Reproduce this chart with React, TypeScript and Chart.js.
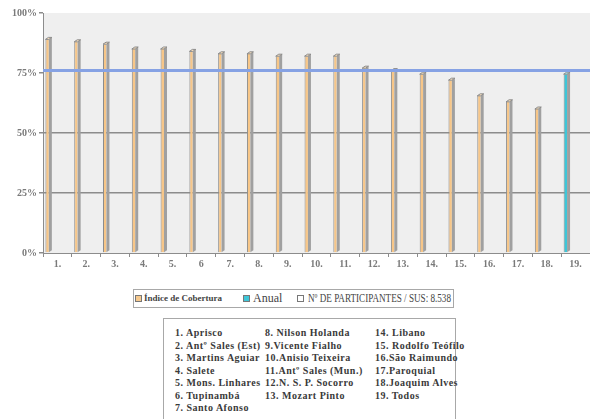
import React, { useEffect, useRef } from "react";
import { Chart, registerables } from "chart.js";

Chart.register(...registerables);

// Coverage per unit (1–18), the overall figure for unit 19, and the annual target line
const categories = ["1.", "2.", "3.", "4.", "5.", "6", "7.", "8.", "9.", "10.", "11.", "12.", "13.", "14.", "15.", "16.", "17.", "18.", "19."];
const coverage = [89, 88, 87, 85, 85, 84, 83, 83, 82, 82, 82, 77, 76, 74.5, 72, 65.5, 63, 60, null];
const annual = [null, null, null, null, null, null, null, null, null, null, null, null, null, null, null, null, null, null, 74.5];
const participants = categories.map(() => null);
const targetLine = [76, 76];
const yTicks = [0, 25, 50, 75, 100];

const legendItems = [
  { label: "Índice de Cobertura", color: "#f6c98e", small: true, left: 1, textLeft: 10 },
  { label: "Anual", color: "#3ec6d8", small: false, left: 109, textLeft: 119 },
  { label: "Nº DE PARTICIPANTES / SUS: 8.538", color: "#ffffff", small: false, left: 163, textLeft: 174 },
];

const unitColumns = [
  ["1. Aprisco", "2. Antº Sales (Est)", "3. Martins Aguiar", "4. Salete", "5. Mons. Linhares", "6. Tupinambá", "7. Santo Afonso"],
  ["8. Nilson Holanda", "9.Vicente Fialho", "10.Anisio Teixeira", "11.Antº Sales (Mun.)", "12.N. S. P. Socorro", "13. Mozart Pinto"],
  ["14. Libano", "15. Rodolfo Teófilo", "16.São Raimundo", "17.Paroquial", "18.Joaquim Alves", "19. Todos"],
];

const ORANGE = "#f7c688";
const CYAN = "#3ec6d8";
const EDGE = "#8c8c8c";
const TICK_FONT = { family: "'Liberation Serif', serif", size: 10, weight: "bold" as const };

// Paints the plot wall behind everything
const wallPlugin = {
  id: "wall",
  beforeDraw(chart: any) {
    const { ctx, chartArea: a } = chart;
    ctx.save();
    ctx.fillStyle = "#efefef";
    ctx.fillRect(a.left, a.top, a.right - a.left, a.bottom - a.top);
    ctx.restore();
  },
};

// Adds a side face and top cap to every bar for a raised look
const depthPlugin = {
  id: "depth",
  afterDatasetDraw(chart: any, args: any) {
    if (args.index > 1) return;
    const meta = chart.getDatasetMeta(args.index);
    const { ctx } = chart;
    const dx = 3;
    const dy = 2;
    const capColor = args.index === 0 ? "#fbe2bf" : "#a9e8f0";
    meta.data.forEach((el: any, i: number) => {
      const v = chart.data.datasets[args.index].data[i];
      if (v === null || v === undefined) return;
      const { x, y, base, width } = el.getProps(["x", "y", "base", "width"], true);
      const l = x - width / 2;
      const r = x + width / 2;
      ctx.save();
      ctx.lineWidth = 1;
      ctx.strokeStyle = EDGE;
      // side face
      ctx.beginPath();
      ctx.moveTo(r, y);
      ctx.lineTo(r + dx, y - dy);
      ctx.lineTo(r + dx, base - dy);
      ctx.lineTo(r, base);
      ctx.closePath();
      ctx.fillStyle = "#a0a0a0";
      ctx.fill();
      // top cap
      ctx.beginPath();
      ctx.moveTo(l, y);
      ctx.lineTo(l + dx, y - dy);
      ctx.lineTo(r + dx, y - dy);
      ctx.lineTo(r, y);
      ctx.closePath();
      ctx.fillStyle = capColor;
      ctx.fill();
      ctx.stroke();
      ctx.restore();
    });
  },
};

function CoverageChart() {
  const ref = useRef<HTMLCanvasElement>(null);

  useEffect(() => {
    if (!ref.current) return;
    const barCommon = {
      borderColor: EDGE,
      borderWidth: { left: 1, right: 0, top: 0, bottom: 0 },
      borderSkipped: false,
      barPercentage: 0.5,
      categoryPercentage: 0.95,
      order: 2,
    };
    const chart = new Chart(ref.current, {
      type: "bar",
      data: {
        labels: categories,
        datasets: [
          { type: "bar", label: legendItems[0].label, data: coverage, backgroundColor: ORANGE, stack: "a", ...barCommon } as any,
          { type: "bar", label: legendItems[1].label, data: annual, backgroundColor: CYAN, stack: "a", ...barCommon } as any,
          { type: "bar", label: legendItems[2].label, data: participants, backgroundColor: "#ffffff", stack: "b", ...barCommon } as any,
          {
            type: "line",
            label: "Meta",
            data: targetLine.map((v, i) => ({ x: i, y: v })),
            xAxisID: "xLine",
            borderColor: "#86a2e4",
            borderWidth: 3,
            pointRadius: 0,
            order: 0,
          } as any,
        ],
      },
      options: {
        animation: false,
        responsive: false,
        devicePixelRatio: 1,
        layout: { padding: { top: 13, right: 0, bottom: 0, left: 0 } },
        plugins: { legend: { display: false }, tooltip: { enabled: false } },
        scales: {
          x: {
            stacked: true,
            offset: true,
            grid: { display: true, drawOnChartArea: false, offset: true, tickLength: 4, tickColor: EDGE },
            border: { display: true, color: EDGE },
            ticks: { font: TICK_FONT, color: "#7a7a7a", padding: 1, maxRotation: 0, autoSkip: false },
            afterFit(scale: any) {
              scale.height = 22;
            },
          },
          xLine: {
            type: "linear",
            display: false,
            min: 0,
            max: 1,
            offset: false,
          },
          y: {
            stacked: true,
            min: 0,
            max: 100,
            afterBuildTicks(scale: any) {
              scale.ticks = yTicks.map((value) => ({ value }));
            },
            grid: {
              color: (c: any) => (c.tick && (c.tick.value === 25 || c.tick.value === 50) ? "#8c8c8c" : "rgba(0,0,0,0)"),
              lineWidth: 1.5,
              tickLength: 4,
              tickColor: EDGE,
            },
            border: { display: true, color: EDGE },
            ticks: {
              font: TICK_FONT,
              color: "#7a7a7a",
              padding: 2,
              callback: (v: any) => `${v}%`,
            },
            afterFit(scale: any) {
              scale.width = 43;
            },
          },
        },
      },
      plugins: [wallPlugin, depthPlugin],
    });
    return () => chart.destroy();
  }, []);

  return <canvas ref={ref} width={590} height={275} style={{ display: "block" }} />;
}

export default function App() {
  return (
    <div style={{ position: "absolute", left: 0, top: 0, width: 590, height: 419, background: "#fff", overflow: "hidden" }}>
      <CoverageChart />
      <div
        style={{
          position: "absolute",
          left: 133,
          top: 289,
          width: 321,
          height: 19,
          border: "1px solid #a8a8a8",
          boxSizing: "border-box",
          fontFamily: "'Liberation Serif', serif",
          color: "#444",
        }}
      >
        {legendItems.map((it) => (
          <React.Fragment key={it.label}>
            <span
              style={{
                position: "absolute",
                left: it.left,
                top: 5,
                width: 5,
                height: 5,
                background: it.color,
                border: "1px solid #777",
              }}
            />
            <span
              style={{
                position: "absolute",
                left: it.textLeft,
                top: it.small ? 2 : 1,
                fontSize: it.small ? 9 : 12,
                lineHeight: it.small ? "13px" : "15px",
                fontWeight: it.small ? "bold" : "normal",
                whiteSpace: "nowrap",
                transform: it.small || it.label === "Anual" ? "none" : "scaleX(0.76)",
                transformOrigin: "left center",
              }}
            >
              {it.label}
            </span>
          </React.Fragment>
        ))}
      </div>
      <div
        style={{
          position: "absolute",
          left: 163,
          top: 318,
          width: 293,
          height: 110,
          border: "1px solid #a8a8a8",
          boxSizing: "border-box",
          fontFamily: "'Liberation Serif', serif",
          fontWeight: "bold",
          fontSize: 10,
          letterSpacing: 0.5,
          color: "#3a3a3a",
        }}
      >
        {unitColumns.map((col, ci) => (
          <div key={ci} style={{ position: "absolute", left: [11, 101, 211][ci], top: 8 }}>
            {col.map((name) => (
              <div key={name} style={{ height: 12.5, lineHeight: "12.5px", whiteSpace: "nowrap" }}>
                {name}
              </div>
            ))}
          </div>
        ))}
      </div>
    </div>
  );
}
